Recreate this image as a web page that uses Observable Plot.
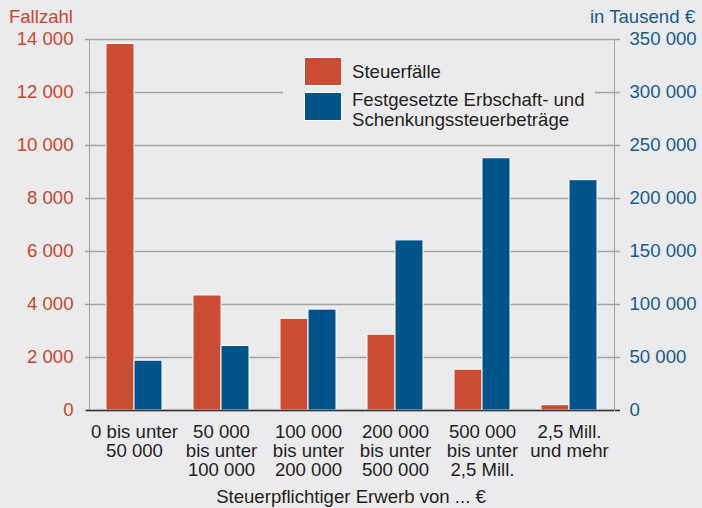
<!DOCTYPE html>
<html>
<head>
<meta charset="utf-8">
<script src="https://cdn.jsdelivr.net/npm/d3@7"></script>
<script src="https://cdn.jsdelivr.net/npm/@observablehq/plot@0.6"></script>
<style>
  html, body { margin: 0; padding: 0; background: #ebebed; }
  body { width: 702px; height: 508px; overflow: hidden; }
  #wrap { position: relative; width: 702px; height: 508px; font-family: "Liberation Sans", Arial, Helvetica, sans-serif; }
  #chart { position: absolute; left: 0; top: 0; }
  .abs { position: absolute; white-space: nowrap; font-size: 18.6px; line-height: 20px; }
  #legend { position: absolute; left: 283px; top: 48px; width: 312px; height: 92px; background: #ebebed; }
  .sw { position: absolute; left: 21px; width: 36px; height: 27px; border: 1px solid #fff; }
  .lt { position: absolute; left: 69px; font-size: 18.6px; line-height: 20px; color: #231f20; white-space: nowrap; }
</style>
</head>
<body>
<div id="wrap">
  <div id="chart"></div>
  <div class="abs" id="ltitle" style="right: 629px; top: 7px; color: #c9462f;">Fallzahl</div>
  <div class="abs" id="rtitle" style="right: 7px; top: 7px; color: #1a5b8c;">in Tausend €</div>
  <div id="legend">
    <div class="sw" style="top: 9px; background: #cb4b33;"></div>
    <div class="sw" style="top: 44px; background: #00548a;"></div>
    <div class="lt" style="top: 14px;">Steuerfälle</div>
    <div class="lt" style="top: 42px;">Festgesetzte Erbschaft- und<br>Schenkungssteuerbeträge</div>
  </div>
  <div class="abs" id="caption" style="left: 0; width: 702px; text-align: center; top: 487px; color: #231f20;">Steuerpflichtiger Erwerb von ... €</div>
</div>
<script>
// ---- data ----
const categories = ["c1", "c2", "c3", "c4", "c5", "c6"];
const categoryLabels = [
  "0 bis unter\n50 000",
  "50 000\nbis unter\n100 000",
  "100 000\nbis unter\n200 000",
  "200 000\nbis unter\n500 000",
  "500 000\nbis unter\n2,5 Mill.",
  "2,5 Mill.\nund mehr"
];
const steuerfaelle = [13830, 4340, 3460, 2860, 1540, 200];           // Fallzahl
const steuerbetraege = [47000, 60800, 95200, 160500, 238000, 217300]; // in Tausend €
const leftTicks = [0, 2000, 4000, 6000, 8000, 10000, 12000, 14000];
const rightFactor = 25; // 350 000 / 14 000

const rows = categories.map((c, i) => ({cat: c, faelle: steuerfaelle[i], betrag: steuerbetraege[i]}));

const red = "#cb4b33", blue = "#00548a", redText = "#c9462f", blueText = "#1a5b8c", gray = "#a4a4a6";
const fmt = d => d3.format(",")(d).replace(/,/g, " ");

const chart = Plot.plot({
  width: 702,
  height: 508,
  marginLeft: 89,
  marginRight: 88,
  marginTop: 39,
  marginBottom: 98,
  style: {background: "transparent", fontFamily: "'Liberation Sans', Arial, Helvetica, sans-serif", fontSize: "18.6px", overflow: "visible"},
  x: {domain: categories, paddingInner: 0.36, paddingOuter: 0.18},
  y: {domain: [0, 14000]},
  marks: [
    Plot.gridY(leftTicks, {stroke: gray, strokeOpacity: 1, strokeWidth: 1.5}),
    Plot.frame({anchor: "left", stroke: gray, strokeWidth: 1}),
    Plot.frame({anchor: "right", stroke: gray, strokeWidth: 1}),
    Plot.axisY(leftTicks, {anchor: "left", tickSize: 4, tickPadding: 12, stroke: gray, strokeWidth: 1.5, fill: redText, tickFormat: fmt, label: null}),
    Plot.axisY(leftTicks, {anchor: "right", tickSize: 5, tickPadding: 10, stroke: gray, strokeWidth: 1.5, fill: blueText, tickFormat: d => fmt(d * rightFactor), label: null}),
    Plot.barY(rows, {x: "cat", y: "faelle", fill: red, stroke: "white", strokeWidth: 1, insetRight: 28}),
    Plot.barY(rows, {x: "cat", y: d => d.betrag / rightFactor, fill: blue, stroke: "white", strokeWidth: 1, insetLeft: 28}),
    Plot.ruleY([0], {stroke: "#333", strokeWidth: 1.5}),
    Plot.axisY([0], {anchor: "left", tickSize: 3, stroke: "#333", strokeWidth: 1.5, tickFormat: () => "", label: null}),
    Plot.axisY([0], {anchor: "right", tickSize: 5, stroke: "#333", strokeWidth: 1.5, tickFormat: () => "", label: null}),
    Plot.axisX({tickSize: 0, tickPadding: 14, tickFormat: d => categoryLabels[categories.indexOf(d)], lineHeight: 1.03, fill: "#231f20", label: null})
  ]
});
document.getElementById("chart").appendChild(chart);
</script>
</body>
</html>
